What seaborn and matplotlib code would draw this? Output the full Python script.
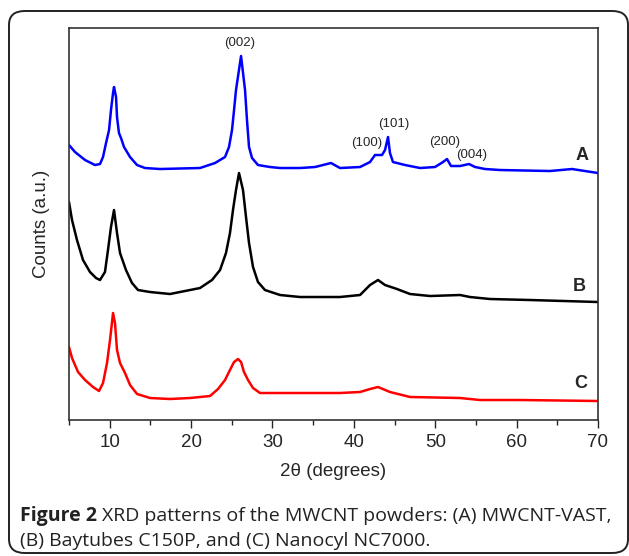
import numpy as np
import pandas as pd
import seaborn as sns
import matplotlib.pyplot as plt
from matplotlib.patches import FancyBboxPatch
from matplotlib.ticker import MultipleLocator

# XRD patterns (2theta in degrees, counts in a.u.)
theta_a = [5.0, 5.74, 6.97, 8.19, 8.81, 9.18, 9.55, 9.92, 10.16, 10.41, 10.53, 10.78, 10.90,
           11.14, 11.39, 11.76, 12.50, 13.36, 14.34, 16.18, 21.10, 22.94, 24.17, 24.66, 25.03,
           25.28, 25.52, 26.14, 26.63, 26.87, 27.12, 27.49, 28.22, 29.70, 30.93, 33.39, 35.23,
           37.19, 38.30, 40.76, 41.99, 42.60, 43.46, 43.83, 44.20, 44.44, 44.81, 46.29, 48.13,
           49.97, 50.96, 51.45, 51.94, 53.05, 54.15, 54.89, 56.12, 57.96, 64.1, 66.81, 68.4, 70.0]
counts_a = [275, 268, 260, 255, 256, 263, 277, 290, 310, 327, 333, 323, 303,
            287, 282, 273, 263, 255, 252, 251, 252, 257, 263, 273, 290,
            310, 330, 364, 330, 300, 273, 262, 255, 253, 252, 252, 253,
            257, 252, 253, 258, 265, 265, 270, 283, 267, 258, 255, 252,
            253, 258, 261, 254, 254, 256, 253, 251, 250, 249, 251, 249, 247]

theta_b = [5.0, 5.37, 5.98, 6.72, 7.58, 8.32, 8.81, 9.42, 9.79, 10.16, 10.53, 10.90, 11.27,
           12.00, 12.74, 13.48, 14.95, 17.41, 19.87, 21.10, 22.57, 23.56, 24.29, 24.78, 25.15,
           25.52, 25.89, 26.38, 26.75, 27.12, 27.61, 28.22, 29.08, 30.93, 33.39, 38.30, 40.76,
           41.99, 42.97, 43.83, 45.30, 46.90, 49.36, 53.05, 54.27, 56.73, 61.65, 70.0]
counts_b = [218, 200, 180, 160, 148, 142, 140, 148, 170, 193, 210, 187, 167,
            150, 137, 130, 128, 126, 130, 132, 140, 150, 167, 187, 210,
            230, 247, 230, 203, 177, 153, 138, 130, 125, 123, 123, 125,
            135, 140, 135, 131, 126, 124, 125, 123, 121, 120, 118]

theta_c = [5.0, 5.37, 6.11, 6.97, 7.95, 8.69, 9.18, 9.67, 10.04, 10.41, 10.65, 10.90, 11.27,
           11.88, 12.50, 13.36, 14.95, 17.41, 19.87, 22.33, 23.31, 24.17, 24.78, 25.28, 25.77,
           26.14, 26.50, 27.00, 27.61, 28.47, 30.93, 33.39, 38.30, 40.76, 41.99, 42.97, 44.44,
           46.90, 53.05, 55.50, 60.42, 70.0]
counts_c = [73, 62, 48, 40, 33, 29, 37, 57, 80, 107, 97, 70, 57,
            47, 35, 26, 22, 21, 22, 24, 31, 40, 50, 58, 61,
            58, 48, 40, 32, 27, 27, 27, 27, 28, 31, 33, 28,
            23, 22, 20, 20, 19]

samples = ['A', 'B', 'C']
colors = {'A': '#0000ff', 'B': '#000000', 'C': '#ff0000'}

peak_labels = ['(002)', '(100)', '(101)', '(200)', '(004)']
peak_x = [26.0, 41.6, 44.9, 51.2, 54.5]
peak_y = [377, 277, 296, 278, 265]

sample_label_x = [68.1, 67.7, 67.9]
sample_label_y = [265, 134, 37]

df = pd.concat([
    pd.DataFrame({'theta': theta_a, 'counts': counts_a, 'sample': 'A'}),
    pd.DataFrame({'theta': theta_b, 'counts': counts_b, 'sample': 'B'}),
    pd.DataFrame({'theta': theta_c, 'counts': counts_c, 'sample': 'C'}),
])

sns.set_style('ticks')
plt.rcParams['font.family'] = ['Liberation Sans', 'DejaVu Sans']

fig = plt.figure(figsize=(6.29, 5.56), dpi=100)
ax = fig.add_axes([0.1097, 0.2446, 0.8410, 0.7050])

sns.lineplot(data=df, x='theta', y='counts', hue='sample', palette=colors,
             estimator=None, sort=False, linewidth=1.8, legend=False, ax=ax)

ax.set_xlim(5, 70)
ax.set_ylim(0, 392)
ax.xaxis.set_major_locator(MultipleLocator(10))
ax.xaxis.set_minor_locator(MultipleLocator(5))
ax.set_yticks([])
ax.tick_params(axis='x', which='major', direction='out', length=6, width=1, labelsize=13.5, pad=4)
ax.tick_params(axis='x', which='minor', direction='out', length=3.5, width=1)
for s in ax.spines.values():
    s.set_visible(True)
    s.set_linewidth(1.2)
    s.set_color('#333333')

ax.set_xlabel('2\u03b8 (degrees)', fontsize=13.5, labelpad=9)
ax.set_ylabel('Counts (a.u.)', fontsize=13.5, labelpad=14)

for lab, x, y in zip(peak_labels, peak_x, peak_y):
    ax.text(x, y, lab, ha='center', va='center', fontsize=9.5)
for lab, x, y in zip(samples, sample_label_x, sample_label_y):
    ax.text(x, y, lab, ha='center', va='center', fontsize=13, fontweight='bold')

# rounded frame around the whole figure
W, H = 629, 556
box = FancyBboxPatch((9 / W, (H - 553) / H), (628 - 9) / W, (553 - 11) / H,
                     boxstyle='round,pad=0,rounding_size=0.025', transform=fig.transFigure,
                     fill=False, edgecolor='#222222', linewidth=1.4, clip_on=False)
fig.patches.append(box)

cap_font = ['Open Sans', 'DejaVu Sans']
t1 = fig.text(20 / W, 1 - 516 / H, 'Figure 2', fontsize=14, fontweight='bold',
              family=cap_font, va='center', color='#222222')
fig.canvas.draw()
bb = t1.get_window_extent()
fig.text(bb.x1 / W + 0.008, 1 - 516 / H, 'XRD patterns of the MWCNT powders: (A) MWCNT-VAST,',
         fontsize=14, family=cap_font, va='center', color='#222222')
fig.text(20 / W, 1 - 541 / H, '(B) Baytubes C150P, and (C) Nanocyl NC7000.',
         fontsize=14, family=cap_font, va='center', color='#222222')

fig.savefig('out.png', dpi=100)
